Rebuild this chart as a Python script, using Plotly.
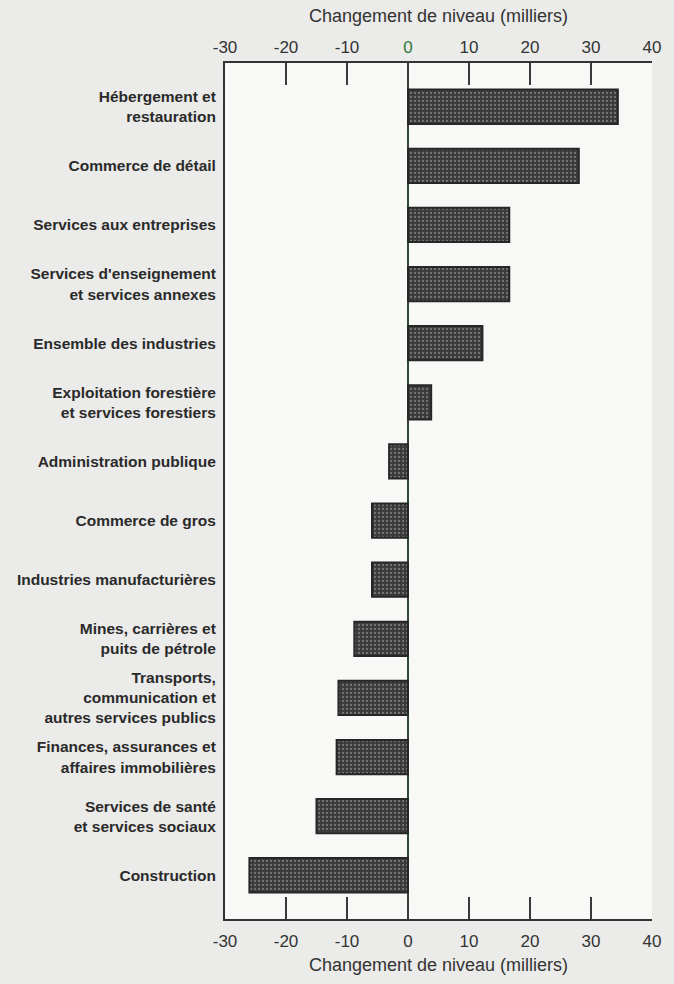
import plotly.graph_objects as go

# Industries (top to bottom) and change in level, thousands
industries = [
    "Hébergement et<br>restauration",
    "Commerce de détail",
    "Services aux entreprises",
    "Services d'enseignement<br>et services annexes",
    "Ensemble des industries",
    "Exploitation forestière<br>et services forestiers",
    "Administration publique",
    "Commerce de gros",
    "Industries manufacturières",
    "Mines, carrières et<br>puits de pétrole",
    "Transports,<br>communication et<br>autres services publics",
    "Finances, assurances et<br>affaires immobilières",
    "Services de santé<br>et services sociaux",
    "Construction",
]
changes = [34.4, 28.0, 16.6, 16.6, 12.2, 3.8, -3.1, -5.9, -5.9, -8.8, -11.4, -11.7, -15.0, -26.0]

tick_vals = [-30, -20, -10, 0, 10, 20, 30, 40]
tick_text = ["-30", "-20", "-10", "0", "10", "20", "30", "40"]
top_tick_text = ["-30", "-20", "-10", "<span style='color:#2f7a3c'>0</span>", "10", "20", "30", "40"]
axis_title = "Changement de niveau (milliers)"

font = "Liberation Sans, Arial, sans-serif"

fig = go.Figure()
fig.add_trace(go.Bar(
    x=changes,
    y=industries,
    orientation="h",
    width=0.58,
    marker=dict(
        color="#3a3a3a",
        line=dict(color="#262626", width=2),
        pattern=dict(shape=".", fgcolor="#b0b0b0", size=4, solidity=0.25),
    ),
    hoverinfo="x+y",
))
# invisible copy so the top axis gets drawn
fig.add_trace(go.Scatter(x=changes, y=industries, xaxis="x2", mode="none", hoverinfo="skip"))

axis_common = dict(
    range=[-30, 40],
    tickmode="array",
    tickvals=tick_vals,
    ticks="inside",
    ticklen=22,
    tickwidth=2,
    tickcolor="#3a3a3a",
    showgrid=False,
    ticklabelstandoff=6,
    tickfont=dict(family=font, size=17, color="#333333"),
    title_font=dict(family=font, size=18, color="#333333"),
)

fig.update_layout(
    width=674,
    height=984,
    paper_bgcolor="#ebebe9",
    plot_bgcolor="#f8f8f6",
    margin=dict(l=225, r=22, t=63, b=63),
    showlegend=False,
    xaxis=dict(
        **axis_common,
        ticktext=tick_text,
        side="bottom",
        showline=True,
        linecolor="#333333",
        linewidth=2,
        mirror=True,
        zeroline=True,
        zerolinecolor="#2f4a36",
        zerolinewidth=2,
        title=dict(text=axis_title, standoff=8),
    ),
    xaxis2=dict(
        **axis_common,
        ticktext=top_tick_text,
        overlaying="x",
        side="top",
        showline=False,
        zeroline=False,
        title=dict(text=axis_title, standoff=10),
    ),
    yaxis=dict(
        range=[13.74, -0.74],
        showgrid=False,
        ticks="",
        showline=True,
        linecolor="#333333",
        linewidth=2,
        tickfont=dict(family=font, size=15.5, color="#2a2a2a", weight="bold"),
        ticklabelstandoff=4,
    ),
)

fig.write_html("out.html", config={"displayModeBar": False},
               post_script="document.body.style.margin='0';")
